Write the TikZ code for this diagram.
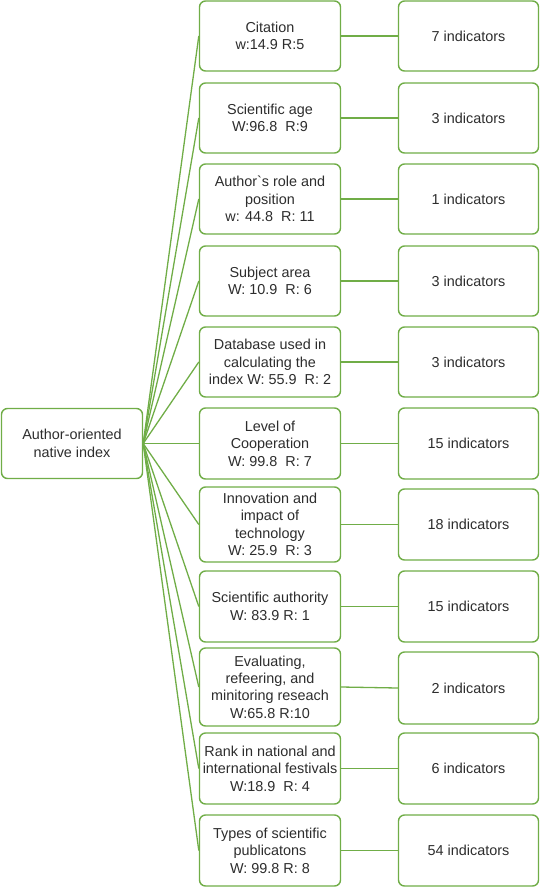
\documentclass[tikz,border=0pt]{standalone}
\usepackage{fontspec}
\newfontfamily\dgfont{Liberation Sans}
\definecolor{dggreen}{RGB}{112,173,71}
\definecolor{dgtext}{RGB}{45,45,45}
\tikzset{
  box/.style={draw=dggreen, line width=1.4pt, rounded corners=6pt, fill=white,
    align=center, text=dgtext, font=\dgfont\fontsize{14.4}{17.4}\selectfont,
    inner sep=0pt, minimum width=141pt},
  rbox/.style={box, minimum width=140pt},
  link/.style={draw=dggreen, line width=1.3pt}
}
\begin{document}
\begin{tikzpicture}[x=1pt,y=-1pt]
\useasboundingbox (0,0) rectangle (540,887);
% root
\node[box, minimum height=70pt] (L) at (72,443.5) {Author-oriented\\native index};
% middle column
\node[box, minimum height=70pt] (m1) at (270,36) {Citation\\w:14.9 R:5};
\node[box, minimum height=70pt] (m2) at (270,118) {Scientific age\\W:96.8~ R:9};
\node[box, minimum height=70pt] (m3) at (270,199) {Author`s role and\\position\\w: 44.8~ R: 11};
\node[box, minimum height=70pt] (m4) at (270,281) {Subject area\\W: 10.9~ R: 6};
\node[box, minimum height=70pt] (m5) at (270,362) {Database used in\\calculating the\\index W: 55.9~ R: 2};
\node[box, minimum height=71pt] (m6) at (270,443.5) {Level of\\Cooperation\\W: 99.8~ R: 7};
\node[box, minimum height=75pt] (m7) at (270,524.5) {Innovation and\\impact of\\technology\\W: 25.9~ R: 3};
\node[box, minimum height=71pt] (m8) at (270,606.5) {Scientific authority\\W: 83.9 R: 1};
\node[box, minimum height=78pt] (m9) at (270,687) {Evaluating,\\refeering, and\\minitoring reseach\\W:65.8 R:10};
\node[box, minimum height=71pt] (m10) at (270,768.5) {Rank in national and\\international festivals\\W:18.9~ R: 4};
\node[box, minimum height=71pt] (m11) at (270,850.5) {Types of scientific\\publicatons\\W: 99.8 R: 8};
% right column
\node[rbox, minimum height=70pt] (r1) at (468.5,36) {7 indicators};
\node[rbox, minimum height=70pt] (r2) at (468.5,118) {3 indicators};
\node[rbox, minimum height=70pt] (r3) at (468.5,199) {1 indicators};
\node[rbox, minimum height=70pt] (r4) at (468.5,281) {3 indicators};
\node[rbox, minimum height=70pt] (r5) at (468.5,362) {3 indicators};
\node[rbox, minimum height=71pt] (r6) at (468.5,443.5) {15 indicators};
\node[rbox, minimum height=71pt] (r7) at (468.5,524.5) {18 indicators};
\node[rbox, minimum height=71pt] (r8) at (468.5,606.5) {15 indicators};
\node[rbox, minimum height=72pt] (r9) at (468.5,688) {2 indicators};
\node[rbox, minimum height=71pt] (r10) at (468.5,768.5) {6 indicators};
\node[rbox, minimum height=71pt] (r11) at (468.5,850.5) {54 indicators};
% connectors
\foreach \i in {1,...,11}{
  \draw[link] (L.east) -- (m\i.west);
  \draw[link] (m\i.east) -- (r\i.west);
}
\end{tikzpicture}
\end{document}
